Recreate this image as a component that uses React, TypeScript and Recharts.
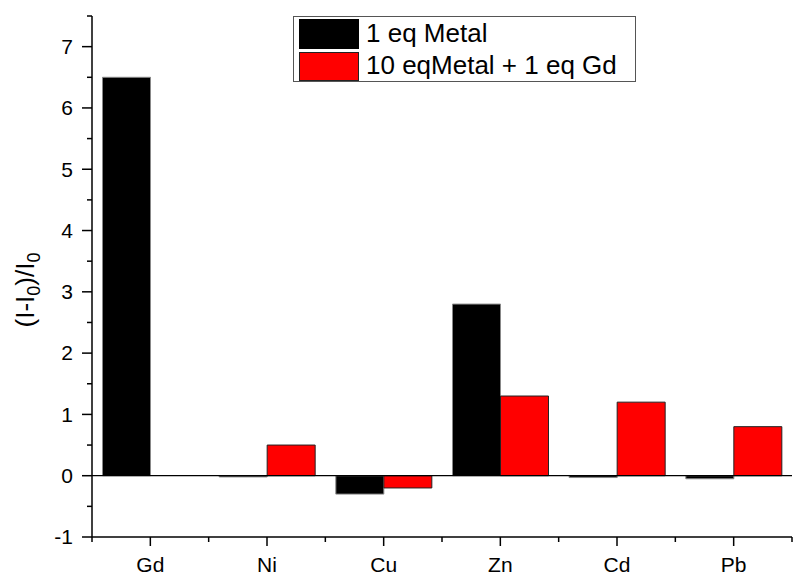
import { BarChart, Bar, XAxis, YAxis, ReferenceLine } from 'recharts'

const metals = ['Gd', 'Ni', 'Cu', 'Zn', 'Cd', 'Pb']
const oneEq = [6.5, -0.02, -0.3, 2.8, -0.03, -0.05]
const tenEqPlusGd = [0, 0.5, -0.2, 1.3, 1.2, 0.8]
const yTicks = [-1, -0.5, 0, 0.5, 1, 1.5, 2, 2.5, 3, 3.5, 4, 4.5, 5, 5.5, 6, 6.5, 7, 7.5]

const data = metals.map((m, i) => ({ name: m, a: oneEq[i], b: tenEqPlusGd[i] }))

const FONT = 'Arial, "Liberation Sans", sans-serif'
const PLOT_W = 700
const halfBand = PLOT_W / metals.length / 2

function YTick(props: any) {
  const { x, y, payload } = props
  const major = Number.isInteger(payload.value)
  return (
    <g>
      <line x1={x - (major ? 10 : 5)} x2={x} y1={y} y2={y} stroke="#000" strokeWidth={1.5} />
      {major && (
        <text x={x - 19} y={y} dy="0.35em" textAnchor="end" fontSize={21} fontFamily={FONT} fill="#000">
          {payload.value}
        </text>
      )}
    </g>
  )
}

function XTick(props: any) {
  const { x, y, payload, index } = props
  return (
    <g>
      <line x1={x} x2={x} y1={y} y2={y + 9} stroke="#000" strokeWidth={1.5} />
      <line x1={x + halfBand} x2={x + halfBand} y1={y} y2={y + 5} stroke="#000" strokeWidth={1.5} />
      {index === 0 && (
        <line x1={x - halfBand} x2={x - halfBand} y1={y} y2={y + 5} stroke="#000" strokeWidth={1.5} />
      )}
      <text x={x} y={y + 35} textAnchor="middle" fontSize={21} fontFamily={FONT} fill="#000">
        {payload.value}
      </text>
    </g>
  )
}

function YLabel() {
  const cx = 34
  const cy = 290
  return (
    <text
      transform={`translate(${cx},${cy}) rotate(-90)`}
      textAnchor="middle"
      fontSize={26}
      fontFamily={FONT}
      fill="#000"
    >
      (I-I<tspan fontSize={18} dy={6}>0</tspan>
      <tspan dy={-6}>)/I</tspan>
      <tspan fontSize={18} dy={6}>0</tspan>
    </text>
  )
}

export default function App() {
  return (
    <div style={{ position: 'absolute', left: 0, top: 0, width: 795, height: 586, background: '#fff' }}>
      <BarChart
        width={795}
        height={586}
        data={data}
        margin={{ top: 16, right: 3, bottom: 0, left: 0 }}
        barCategoryGap="9%"
        barGap={0}
      >
        <XAxis
          dataKey="name"
          height={49}
          axisLine={{ stroke: '#000', strokeWidth: 1.5 }}
          tickLine={false}
          tickSize={0}
          tickMargin={0}
          tick={<XTick />}
          interval={0}
        />
        <YAxis
          width={92}
          type="number"
          domain={[-1, 7.5]}
          ticks={yTicks}
          interval={0}
          axisLine={{ stroke: '#000', strokeWidth: 1.5 }}
          tickLine={false}
          tickSize={0}
          tickMargin={0}
          tick={<YTick />}
          label={{ content: <YLabel /> }}
        />
        <ReferenceLine y={0} stroke="#000" strokeWidth={1.2} />
        <Bar dataKey="a" name="1 eq Metal" fill="#000" stroke="#888" strokeWidth={1} isAnimationActive={false} />
        <Bar dataKey="b" name="10 eqMetal + 1 eq Gd" fill="#ff0000" stroke="#222" strokeWidth={1} isAnimationActive={false} />
      </BarChart>
      <div
        style={{
          position: 'absolute',
          left: 293,
          top: 16,
          width: 343,
          height: 66,
          border: '1px solid #555',
          fontFamily: FONT,
          fontSize: 26,
          color: '#000',
          boxSizing: 'border-box',
        }}
      >
        <div style={{ position: 'absolute', left: 5, top: 2, width: 60, height: 30, background: '#000' }} />
        <div style={{ position: 'absolute', left: 72, top: 0, lineHeight: '33px' }}>1 eq Metal</div>
        <div
          style={{
            position: 'absolute',
            left: 5,
            top: 35,
            width: 60,
            height: 29,
            background: '#ff0000',
            border: '1px solid #222',
            boxSizing: 'border-box',
          }}
        />
        <div style={{ position: 'absolute', left: 72, top: 32, lineHeight: '33px' }}>10 eqMetal + 1 eq Gd</div>
      </div>
    </div>
  )
}
